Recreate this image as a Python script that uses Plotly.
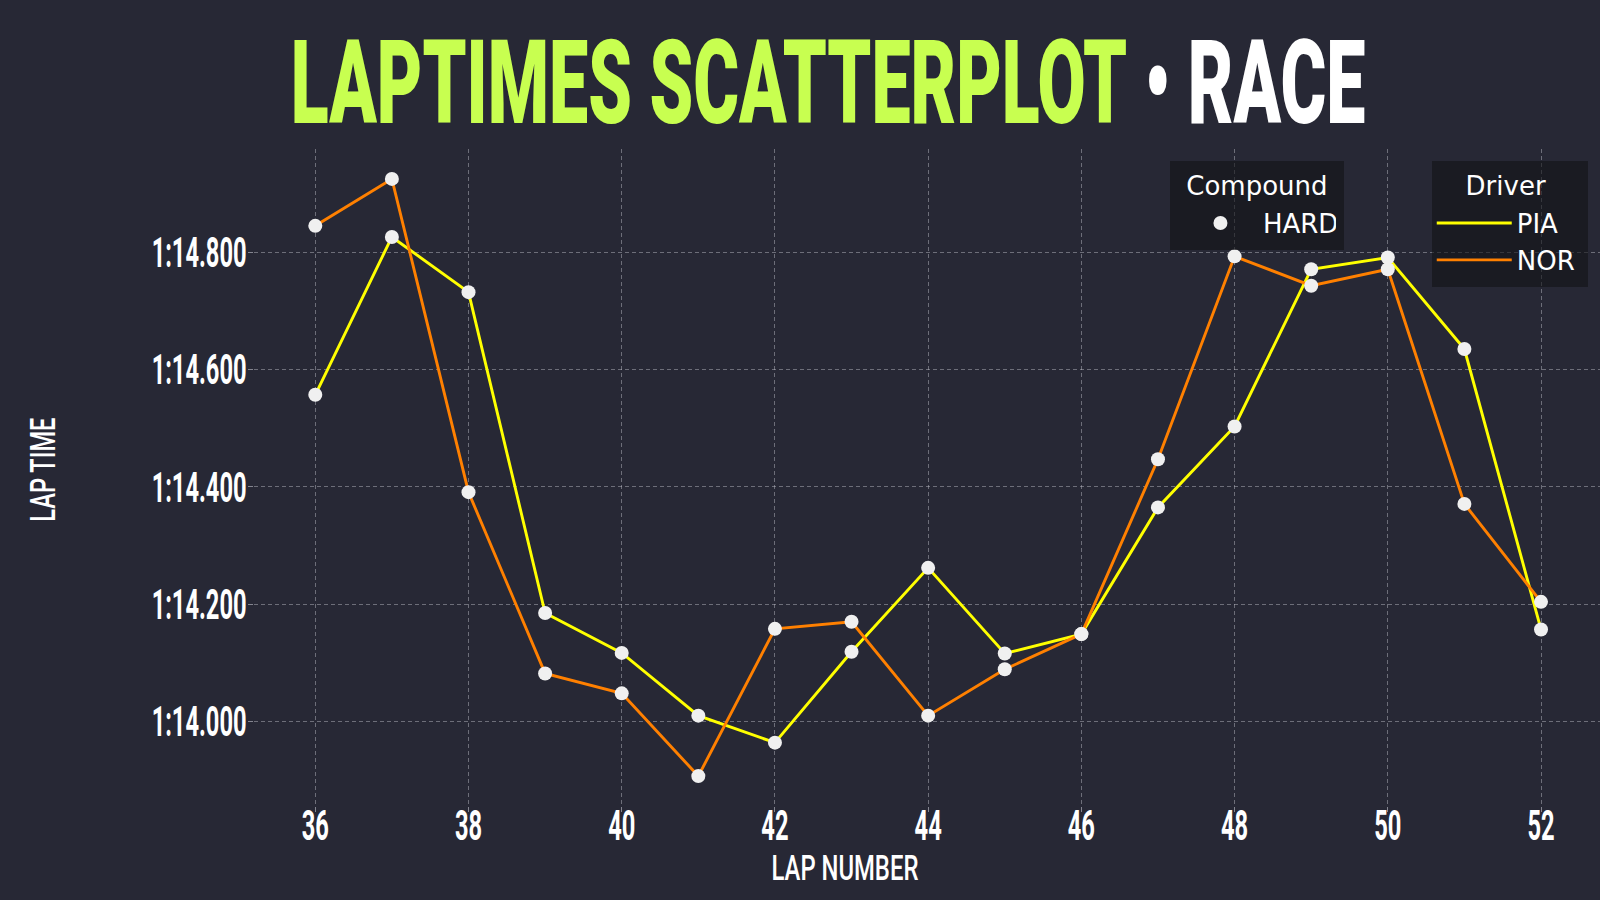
import plotly.graph_objects as go

laps = [36, 37, 38, 39, 40, 41, 42, 43, 44, 45, 46, 47, 48, 49, 50, 51, 52]
pia_times = [74.557, 74.826, 74.732, 74.185, 74.117, 74.010, 73.964, 74.119, 74.262,
             74.116, 74.149, 74.365, 74.503, 74.771, 74.791, 74.635, 74.157]
nor_times = [74.845, 74.925, 74.391, 74.082, 74.048, 73.907, 74.158, 74.170, 74.010,
             74.089, 74.149, 74.447, 74.793, 74.743, 74.771, 74.371, 74.204]
compound = "HARD"
drivers = ["PIA", "NOR"]
driver_colors = ["#ffff00", "#ff8000"]
x_ticks = [36, 38, 40, 42, 44, 46, 48, 50, 52]
y_tick_vals = [74.0, 74.2, 74.4, 74.6, 74.8]
y_tick_text = ["1:14.000", "1:14.200", "1:14.400", "1:14.600", "1:14.800"]

BG = "#272835"
CFONT = "Roboto, Inter, sans-serif"
LFONT = "DejaVu Sans"

fig = go.Figure()
for name, times, col in zip(drivers, [pia_times, nor_times], driver_colors):
    fig.add_trace(go.Scatter(x=laps, y=times, mode="lines", name=name, showlegend=True,
                             line=dict(color=col, width=2.9), legend="legend2"))
fig.add_trace(go.Scatter(x=laps + laps, y=pia_times + nor_times, mode="markers",
                         name=compound, showlegend=True,
                         marker=dict(color="#f0f0f0", size=14), legend="legend"))

grid = dict(showgrid=True, gridcolor="rgba(195,195,205,0.45)", gridwidth=1,
            griddash="4px,3px", zeroline=False, showline=False,
            ticks="outside", ticklen=5, tickcolor="rgba(195,195,205,0.6)",
            tickfont=dict(family=CFONT, size=42, color="white", weight=700))

leg_common = dict(font=dict(family=LFONT, size=26, color="white"),
                  bgcolor="rgba(18,18,22,0.6)", xanchor="left", yanchor="top",
                  itemwidth=75, y=0.982)

fig.update_layout(
    width=1600, height=900, showlegend=True,
    paper_bgcolor=BG, plot_bgcolor=BG,
    margin=dict(l=254, r=0, t=149, b=94),
    xaxis=dict(range=[35.2, 52.77], tickvals=x_ticks, **grid),
    yaxis=dict(range=[73.856, 74.976], tickvals=y_tick_vals, ticktext=y_tick_text, **grid),
    legend=dict(title=dict(text="Compound", side="top center",
                           font=dict(family=LFONT, size=26, color="white")),
                x=0.6805, **leg_common),
    legend2=dict(title=dict(text="Driver", side="top center",
                            font=dict(family=LFONT, size=26, color="white")),
                 x=0.875, **leg_common),
    annotations=[
        dict(text='<span style="color:#c8ff50">LAPTIMES SCATTERPLOT</span> • RACE',
             xref="paper", yref="paper", x=(828 - 254) / 1346, y=(806 - 83) / 657,
             xanchor="center", yanchor="middle", showarrow=False,
             font=dict(family=CFONT, size=117, color="white", weight=900)),
        dict(text="LAP NUMBER", xref="paper", yref="paper",
             x=(845 - 254) / 1346, y=(806 - 868) / 657, xanchor="center", yanchor="middle",
             showarrow=False, font=dict(family=CFONT, size=36, color="white", weight=500)),
        dict(text="LAP TIME", xref="paper", yref="paper", textangle=-90,
             x=(43 - 254) / 1346, y=(806 - 470) / 657, xanchor="center", yanchor="middle",
             showarrow=False, font=dict(family=CFONT, size=36, color="white", weight=500)),
    ],
)

post = """
var gd = document.getElementById('{plot_id}');
function squeeze(el, s, anchor, dx, dy) {
  var b = el.getBBox();
  var ox = anchor === 'end' ? b.x + b.width : b.x + b.width / 2;
  var t = el.getAttribute('transform') || '';
  el.setAttribute('transform', 'translate(' + dx + ',' + dy + ') ' + t +
    ' translate(' + ox + ',0) scale(' + s + ',1) translate(' + (-ox) + ',0)');
}
var targets = [1073, 147, 104];
for (var i = 0; i < targets.length; i++) {
  var a = gd.querySelector('g.annotation[data-index="' + i + '"] text.annotation-text');
  if (a) { squeeze(a, targets[i] / a.getBBox().width, 'middle', 0, 0); }
}
var yt = gd.querySelectorAll('g.ytick text');
if (yt.length) {
  var s = 95 / yt[0].getBBox().width;
  yt.forEach(function (t) { squeeze(t, s, 'end', 7, 0); });
  gd.querySelectorAll('g.xtick text').forEach(function (t) { squeeze(t, s, 'middle', 0, -22); });
}
function padLegend(lg, dx, tdx) {
  if (!lg) return;
  lg.querySelectorAll('g.traces').forEach(function (tr) {
    var t = tr.getAttribute('transform') || '';
    tr.setAttribute('transform', 'translate(' + dx + ',5) ' + t);
  });
  var bg = lg.querySelector('rect.bg');
  if (bg) {
    bg.setAttribute('height', parseFloat(bg.getAttribute('height')) + 8);
    bg.setAttribute('width', parseFloat(bg.getAttribute('width')) + 8);
  }
  var title = lg.querySelector('text.legendtitletext');
  if (title) {
    var tt = title.getAttribute('transform') || '';
    title.setAttribute('transform', 'translate(' + tdx + ',0) ' + tt);
  }
}
padLegend(gd.querySelector('g.legend'), 8, 4);
padLegend(gd.querySelector('g.legend2'), 0, 4);
"""

fig.write_html("out.html", post_script=post)
